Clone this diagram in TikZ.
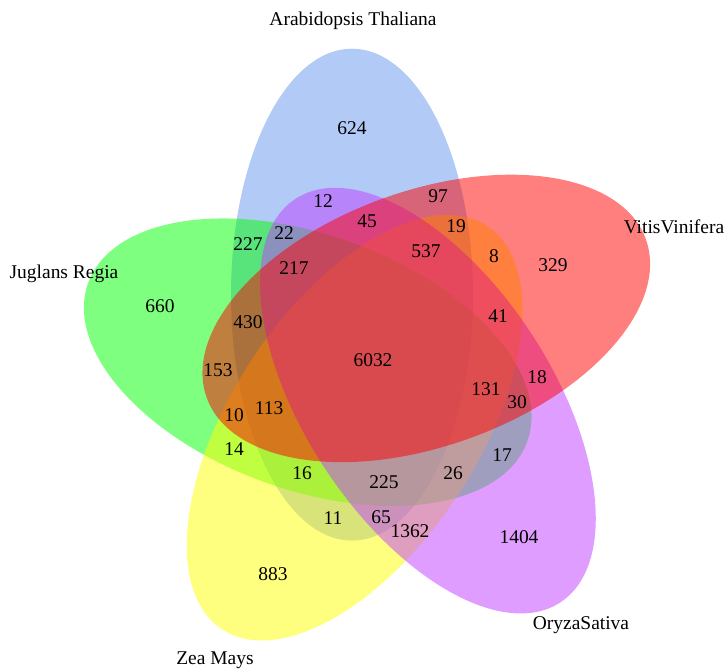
\documentclass[tikz,border=0pt]{standalone}
\usepackage{fontspec}
\setmainfont{Liberation Serif}
\definecolor{arabcol}{RGB}{100,149,237}
\definecolor{juglcol}{RGB}{0,255,0}
\definecolor{zeacol}{RGB}{255,255,0}
\definecolor{oryzcol}{RGB}{191,62,255}
\definecolor{vitiscol}{RGB}{255,0,0}
\tikzset{every picture/.style={line width=0.75pt}}
\tikzset{
	set fill/.style={draw=none, fill=#1, fill opacity=0.5},
	count/.style={font=\fontsize{14.6}{17}\selectfont, inner sep=0pt},
	setname/.style={font=\fontsize{14.6}{17}\selectfont, inner sep=0pt}}

\begin{document}
\begin{tikzpicture}[x=0.75pt,y=0.75pt,yscale=-1,xscale=1]
	\useasboundingbox (0,0) rectangle (725,671);

	%Shape: Ellipse, one per set (Arabidopsis, Juglans, Zea, Oryza, Vitis)
	\begin{scope}[yscale=1.06]
	\foreach \k/\col in {0/arabcol, 4/juglcol, 3/zeacol, 2/oryzcol, 1/vitiscol}
		\fill [set fill=\col, shift={(373.7,340.3)}, rotate=72*\k-90] (-19.2:66) ellipse (232 and 121);
	\end{scope}

	% Text Node
	\node [setname] (arab) at (353,21) {Arabidopsis Thaliana};
	% Text Node
	\node [setname] (vitis) at (674,227) {VitisVinifera};
	% Text Node
	\node [setname] (jugl) at (64,274) {Juglans Regia};
	% Text Node
	\node [setname] (oryz) at (581,625) {OryzaSativa};
	% Text Node
	\node [setname] (zea) at (215,660) {Zea Mays};

	% Text Node
	\node [count] (c624) at (352,128) {624};
	\node [count] (c12) at (323,201) {12};
	\node [count] (c97) at (438,196) {97};
	\node [count] (c45) at (367,221) {45};
	\node [count] (c19) at (456,226) {19};
	\node [count] (c22) at (284,233) {22};
	\node [count] (c227) at (248,244) {227};
	\node [count] (c537) at (426,251) {537};
	\node [count] (c8) at (494,256) {8};
	\node [count] (c329) at (553,265) {329};
	\node [count] (c217) at (294,268) {217};
	\node [count] (c660) at (160,306) {660};
	\node [count] (c430) at (248,322) {430};
	\node [count] (c41) at (498,316) {41};
	\node [count] (c6032) at (373,360) {6032};
	\node [count] (c153) at (218,370) {153};
	\node [count] (c18) at (537,377) {18};
	\node [count] (c131) at (486,389) {131};
	\node [count] (c30) at (517,402) {30};
	\node [count] (c113) at (269,408) {113};
	\node [count] (c10) at (234,415) {10};
	\node [count] (c14) at (234,449) {14};
	\node [count] (c17) at (502,455) {17};
	\node [count] (c16) at (302,473) {16};
	\node [count] (c26) at (453,473) {26};
	\node [count] (c225) at (384,482) {225};
	\node [count] (c11) at (333,518) {11};
	\node [count] (c65) at (381,517) {65};
	\node [count] (c1362) at (410,531) {1362};
	\node [count] (c1404) at (519,537) {1404};
	\node [count] (c883) at (273,574) {883};

\end{tikzpicture}
\end{document}
